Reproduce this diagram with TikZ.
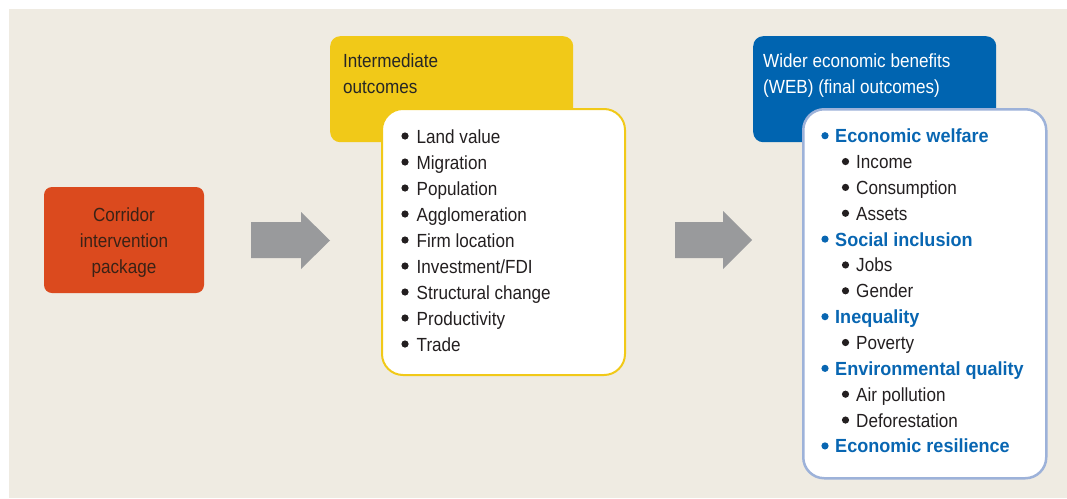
\documentclass[tikz,border=0pt]{standalone}
\usepackage{fontspec}
\setmainfont{Liberation Sans}[FakeStretch=0.9, BoldFeatures={FakeStretch=0.95}]
\definecolor{bg}{HTML}{EFEBE2}
\definecolor{redbox}{HTML}{DB4A1E}
\definecolor{yel}{HTML}{F1C918}
\definecolor{blu}{HTML}{0064B0}
\definecolor{bluline}{HTML}{9DB2D9}
\definecolor{arr}{HTML}{999A9C}
\definecolor{txt}{HTML}{231F20}
\definecolor{btxt}{HTML}{0866B2}
\definecolor{redtxt}{HTML}{3A2216}
\begin{document}
\begin{tikzpicture}[x=1pt,y=-1pt,
  lbl/.style={font=\fontsize{19}{26}\selectfont, inner sep=0pt, anchor=base west, text=txt},
  hdrbox/.style={rounded corners=10pt, minimum width=243pt, minimum height=106pt, anchor=north west, inner sep=0pt},
  listbox/.style={rounded corners=21pt, fill=white, anchor=north west, inner sep=0pt, minimum width=243pt},
  blockarrow/.style={fill=arr}]
\useasboundingbox (0,0) rectangle (1067,498);
\fill[white] (0,0) rectangle (1067,498);
\fill[bg] (9,9) rectangle (1067,498);

% start box
\node[fill=redbox, rounded corners=8pt, minimum width=160pt, minimum height=106pt, inner sep=0pt] (cip) at (124,240) {};
\node[lbl, anchor=base, text=redtxt] (cip1) at (124,221) {Corridor};
\node[lbl, anchor=base, text=redtxt] (cip2) at (124,247) {intervention};
\node[lbl, anchor=base, text=redtxt] (cip3) at (124,273) {package};

% arrows
\fill[blockarrow] (251,222) -- (301,222) -- (301,212) -- (330,240.5) -- (301,269) -- (301,258) -- (251,258) -- cycle;
\fill[blockarrow] (675,222) -- (723,222) -- (723,211) -- (752,240) -- (723,269) -- (723,258) -- (675,258) -- cycle;

% intermediate outcomes
\node[hdrbox, fill=yel] (ioh) at (330,36) {};
\node[lbl, text=black!85] (ioh1) at (343,67) {Intermediate};
\node[lbl, text=black!85] (ioh2) at (343,93) {outcomes};
\node[listbox, draw=yel, line width=2pt, minimum height=266pt] (iol) at (381,108) {};
\foreach \t [count=\i from 0] in {Land value, Migration, Population, Agglomeration, Firm location, Investment/FDI, Structural change, Productivity, Trade}{
  \fill[txt] (405,143+26*\i-7) circle (3.6pt);
  \node[lbl] (yl\i) at (416.5,143+26*\i) {\t};
}

% wider economic benefits
\node[hdrbox, fill=blu] (web) at (753,36) {};
\node[lbl, text=white] (web1) at (763,67) {Wider economic benefits};
\node[lbl, text=white] (web2) at (763,93) {(WEB) (final outcomes)};
\node[listbox, draw=bluline, line width=2.5pt, minimum height=369pt] (webl) at (802,108) {};
\foreach \l/\t [count=\i from 0] in {1/Economic welfare, 2/Income, 2/Consumption, 2/Assets, 1/Social inclusion, 2/Jobs, 2/Gender, 1/Inequality, 2/Poverty, 1/Environmental quality, 2/Air pollution, 2/Deforestation, 1/Economic resilience}{
  \ifnum\l=1
    \fill[btxt] (825,142.7+25.85*\i-7) circle (3.6pt);
    \node[lbl, text=btxt, font=\fontsize{19}{26}\selectfont\bfseries] (bl\i) at (835,142.7+25.85*\i) {\t};
  \else
    \fill[txt] (845.5,142.7+25.85*\i-7) circle (3.6pt);
    \node[lbl] (bl\i) at (856,142.7+25.85*\i) {\t};
  \fi
}
\end{tikzpicture}
\end{document}
